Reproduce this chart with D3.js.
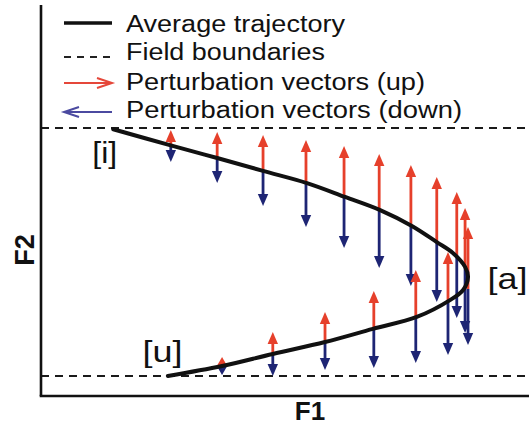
<!DOCTYPE html>
<html>
<head>
<meta charset="utf-8">
<script src="https://cdn.jsdelivr.net/npm/d3@7"></script>
<style>
  html, body { margin: 0; padding: 0; background: #fff; }
  svg { display: block; }
  text { font-family: "Liberation Sans", Arial, Helvetica, sans-serif; fill: #111; }
</style>
</head>
<body>
<svg id="chart" width="529" height="425"></svg>
<script>
// ---- Data (F1, F2 in normalised units; field boundaries at F2 = 0 and 100) ----
const fieldBoundaries = [0, 100];

// Average trajectory, from [i] through [a] to [u]
const trajF1 = [14.8, 26.4, 36.1, 45.5, 54.5, 62.3, 69.5, 76.0, 81.1, 84.4, 86.9, 87.5, 86.5, 83.8, 77.0, 68.0, 58.2, 47.5, 37.1, 26.0];
const trajF2 = [99.5, 93.1, 87.9, 82.7, 77.8, 72.2, 66.9, 60.5, 54.0, 49.6, 44.0, 39.9, 34.7, 30.6, 23.8, 19.0, 13.7, 8.9, 4.0, 0.0];

// Perturbation vectors: position on trajectory, tip of "up" vector, tip of "down" vector
const vecF1   = [26.6, 36.1, 45.5, 54.3, 62.1, 69.3, 75.8, 81.1, 85.2, 86.9, 37.1, 47.5, 58.2, 68.2, 76.8, 83.4, 87.5];
const vecBase = [93.1, 87.9, 82.7, 77.4, 72.2, 66.9, 60.9, 54.0, 48.8, 44.4,  4.0,  8.9, 13.7, 19.0, 24.2, 30.2, 35.1];
const vecUp   = [99.2, 98.4, 97.2, 95.2, 92.7, 89.5, 85.1, 80.2, 74.2, 67.7,  7.7, 17.7, 25.8, 34.3, 42.7, 50.0, 60.1];
const vecDown = [86.3, 77.8, 68.5, 60.1, 51.6, 43.5, 36.3, 29.8, 23.4, 17.3,  0.4,  0.0,  2.4,  3.2,  5.2,  8.5, 12.5];

const pointLabels = ["[i]", "[a]", "[u]"];
const labelF1 = [10.5, 91.5, 20.8];
const labelF2 = [86.0, 35.0, 5.6];

const legendLabels = ["Average trajectory", "Field boundaries", "Perturbation vectors (up)", "Perturbation vectors (down)"];
const axisTitles = ["F1", "F2"];

// ---- Layout ----
const svg = d3.select("#chart");
const x = d3.scaleLinear().domain([0, 100]).range([41, 529]);
const y = d3.scaleLinear().domain([0, 100]).range([376, 128]);
const F1min = 0, F1max = 100, F2min = -8.06, F2max = 149.6;

const RED = "#e6402b", BLUE = "#1e2574";
const LRED = "#e5473a", LBLUE = "#4b4aa0";

// field boundaries (dashed)
svg.selectAll("line.field").data(fieldBoundaries).join("line")
  .attr("class", "field")
  .attr("x1", x(F1min)).attr("x2", x(F1max))
  .attr("y1", d => y(d)).attr("y2", d => y(d))
  .attr("stroke", "#1a1a1a").attr("stroke-width", 2.2)
  .attr("stroke-dasharray", "8,6");

// axes lines
svg.append("line").attr("x1", x(F1min)).attr("x2", x(F1min))
  .attr("y1", y(F2min)).attr("y2", y(F2max))
  .attr("stroke", "#111").attr("stroke-width", 2.6);
svg.append("line").attr("x1", x(F1min) - 1.3).attr("x2", x(F1max))
  .attr("y1", y(F2min)).attr("y2", y(F2min))
  .attr("stroke", "#111").attr("stroke-width", 2.6);

// axis titles
svg.append("text").attr("x", (x(F1min) + x(F1max)) / 2 + 25).attr("y", y(F2min) + 24)
  .attr("text-anchor", "middle").attr("font-weight", "bold").attr("font-size", 26)
  .text(axisTitles[0]);
svg.append("text")
  .attr("transform", `translate(${x(F1min) - 7},${y(50) - 2}) rotate(-90)`)
  .attr("text-anchor", "middle").attr("font-weight", "bold").attr("font-size", 27)
  .text(axisTitles[1]);

// arrows
const vecs = vecF1.map((f1, i) => ({f1, base: vecBase[i], up: vecUp[i], down: vecDown[i]}));
const HEAD = 12, HW = 5.2;
function arrowGroup(cls, color, key) {
  const g = svg.append("g").attr("class", cls);
  vecs.forEach(v => {
    const px = x(v.f1), y0 = y(v.base), y1 = y(v[key]);
    const dir = y1 < y0 ? -1 : 1; // -1 up
    const len = Math.abs(y1 - y0);
    const h = Math.min(HEAD, Math.max(len, 8));
    g.append("line").attr("x1", px).attr("x2", px)
      .attr("y1", y0).attr("y2", y1 - dir * h * 0.6)
      .attr("stroke", color).attr("stroke-width", 2.8);
    g.append("path")
      .attr("d", `M${px},${y1} L${px - HW},${y1 - dir * h} L${px + HW},${y1 - dir * h} Z`)
      .attr("fill", color);
  });
}
arrowGroup("down", BLUE, "down");
arrowGroup("up", RED, "up");

// trajectory
const traj = trajF1.map((f1, i) => [f1, trajF2[i]]);
svg.append("path").datum(traj)
  .attr("d", d3.line().x(d => x(d[0])).y(d => y(d[1])).curve(d3.curveCatmullRom.alpha(0.5)))
  .attr("fill", "none").attr("stroke", "#111").attr("stroke-width", 4)
  .attr("stroke-linecap", "round");

// point labels
svg.selectAll("text.plabel").data(pointLabels).join("text")
  .attr("class", "plabel")
  .attr("x", (d, i) => x(labelF1[i])).attr("y", (d, i) => y(labelF2[i]))
  .attr("font-size", 30)
  .attr("textLength", d => d === "[i]" ? 25 : 40).attr("lengthAdjust", "spacingAndGlyphs")
  .text(d => d);

// legend
const legX0 = 64, legX1 = 112, legTextX = 126;
const legRowY = [23, 53, 83, 112];
const legTextLen = [219, 199, 299, 336];
const leg = svg.append("g").attr("class", "legend");
leg.append("line").attr("x1", legX0).attr("x2", legX1).attr("y1", legRowY[0]).attr("y2", legRowY[0])
  .attr("stroke", "#111").attr("stroke-width", 3.5);
leg.append("line").attr("x1", legX0).attr("x2", legX1).attr("y1", legRowY[1] + 4).attr("y2", legRowY[1] + 4)
  .attr("stroke", "#222").attr("stroke-width", 2).attr("stroke-dasharray", "7,6");
// red open arrow (right)
leg.append("line").attr("x1", legX0).attr("x2", legX1).attr("y1", legRowY[2]).attr("y2", legRowY[2])
  .attr("stroke", LRED).attr("stroke-width", 2);
leg.append("path").attr("d", `M${legX1 - 15},${legRowY[2] - 5} L${legX1},${legRowY[2]} L${legX1 - 15},${legRowY[2] + 5}`)
  .attr("fill", "none").attr("stroke", LRED).attr("stroke-width", 2);
// blue open arrow (left)
leg.append("line").attr("x1", legX0).attr("x2", legX1).attr("y1", legRowY[3]).attr("y2", legRowY[3])
  .attr("stroke", LBLUE).attr("stroke-width", 2);
leg.append("path").attr("d", `M${legX0 + 15},${legRowY[3] - 5} L${legX0},${legRowY[3]} L${legX0 + 15},${legRowY[3] + 5}`)
  .attr("fill", "none").attr("stroke", LBLUE).attr("stroke-width", 2);

leg.selectAll("text").data(legendLabels).join("text")
  .attr("x", legTextX).attr("y", (d, i) => [32, 60, 90, 118][i])
  .attr("font-size", 23)
  .attr("textLength", (d, i) => legTextLen[i]).attr("lengthAdjust", "spacingAndGlyphs")
  .text(d => d);
</script>
</body>
</html>
